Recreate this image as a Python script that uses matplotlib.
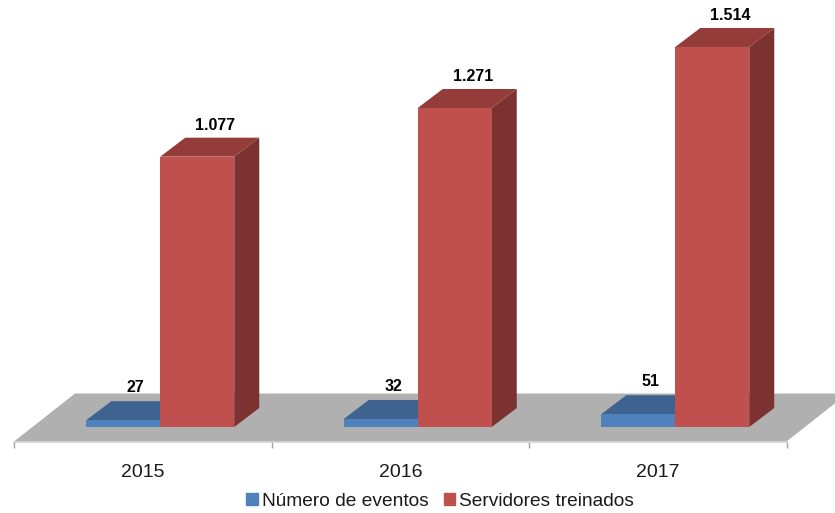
import matplotlib
matplotlib.use('Agg')
import matplotlib.pyplot as plt
from matplotlib.patches import Patch

plt.rcParams['font.family'] = ['Liberation Sans', 'DejaVu Sans']

years = ['2015', '2016', '2017']
eventos = [27, 32, 51]
servidores = [1077, 1271, 1514]
eventos_labels = ['27', '32', '51']
servidores_labels = ['1.077', '1.271', '1.514']

W, H = 835, 513
fig = plt.figure(figsize=(W / 100, H / 100), dpi=100)
# axes run from the left/right floor corners up from the floor front edge
ax = fig.add_axes([14 / W, (H - 441.5) / H, 772.5 / W, 441.5 / H])

px_x = 1 / 257.5    # category units per pixel
px_y = 1 / 0.251    # value units per pixel
ax.set_xlim(-0.5, 2.5)
ax.set_ylim(0, 441.5 * px_y)

bar_w = 74 * px_x
shift = 17.5 * px_x       # bars sit a little back on the floor
base = 14.5 * px_y
dx, dy = 25 * px_x, 19 * px_y
floor_dx, floor_dy = 61 * px_x, 48 * px_y


def bar3d(left, value, front, top, side, z):
    ax.bar(left, value, bar_w, bottom=base, align='edge', color=front, zorder=z + 0.2)
    right = left + bar_w
    y = base + value
    ax.fill([left, right, right + dx, left + dx], [y, y, y + dy, y + dy], color=top, lw=0, zorder=z)
    ax.fill([right, right + dx, right + dx, right], [base, base + dy, y + dy, y], color=side, lw=0, zorder=z)


# floor
ax.fill([-0.5, 2.5, 2.5 + floor_dx, -0.5 + floor_dx], [0, 0, floor_dy, floor_dy],
        color='#B0B0B0', lw=0, clip_on=False, zorder=1)

for i in range(len(years)):
    c = i + shift
    bar3d(c - bar_w, eventos[i], '#4F81BD', '#3E6390', '#3A5D88', 2)
    bar3d(c, servidores[i], '#C0504D', '#933C3A', '#7B3230', 3)
    ax.annotate(eventos_labels[i], (c - bar_w / 2, base + eventos[i]), xytext=(9, 23.5),
                textcoords='offset points', ha='center', va='center',
                fontsize=11.5, fontweight='bold', color='black', zorder=5)
    ax.annotate(servidores_labels[i], (c + bar_w / 2, base + servidores[i]), xytext=(13, 22.5),
                textcoords='offset points', ha='center', va='center',
                fontsize=11.5, fontweight='bold', color='black', zorder=5)

ax.set_xticks(range(len(years)))
ax.set_xticklabels(years, fontsize=14, color='#1A1A1A')
ax.set_xticks([-0.5, 0.5, 1.5, 2.5], minor=True)
ax.tick_params(axis='x', which='major', length=0, pad=16.5)
ax.tick_params(axis='x', which='minor', length=4, width=1, color='#A0A0A0')
ax.set_yticks([])
for s in ['top', 'left', 'right']:
    ax.spines[s].set_visible(False)
ax.spines['bottom'].set_color('#CFCFCF')
ax.spines['bottom'].set_linewidth(1.2)
ax.spines['bottom'].set_zorder(2)
ax.patch.set_visible(False)

handles = [Patch(color='#4F81BD', label='Número de eventos'),
           Patch(color='#C0504D', label='Servidores treinados')]
fig.legend(handles=handles, ncol=2, loc='center', bbox_to_anchor=(440 / W, (H - 501.5) / H),
           frameon=False, fontsize=13.8, handlelength=0.6, handleheight=0.6,
           handletextpad=0.2, columnspacing=0.8, borderpad=0, labelcolor='#1A1A1A')

fig.savefig('out.png', dpi=100)
